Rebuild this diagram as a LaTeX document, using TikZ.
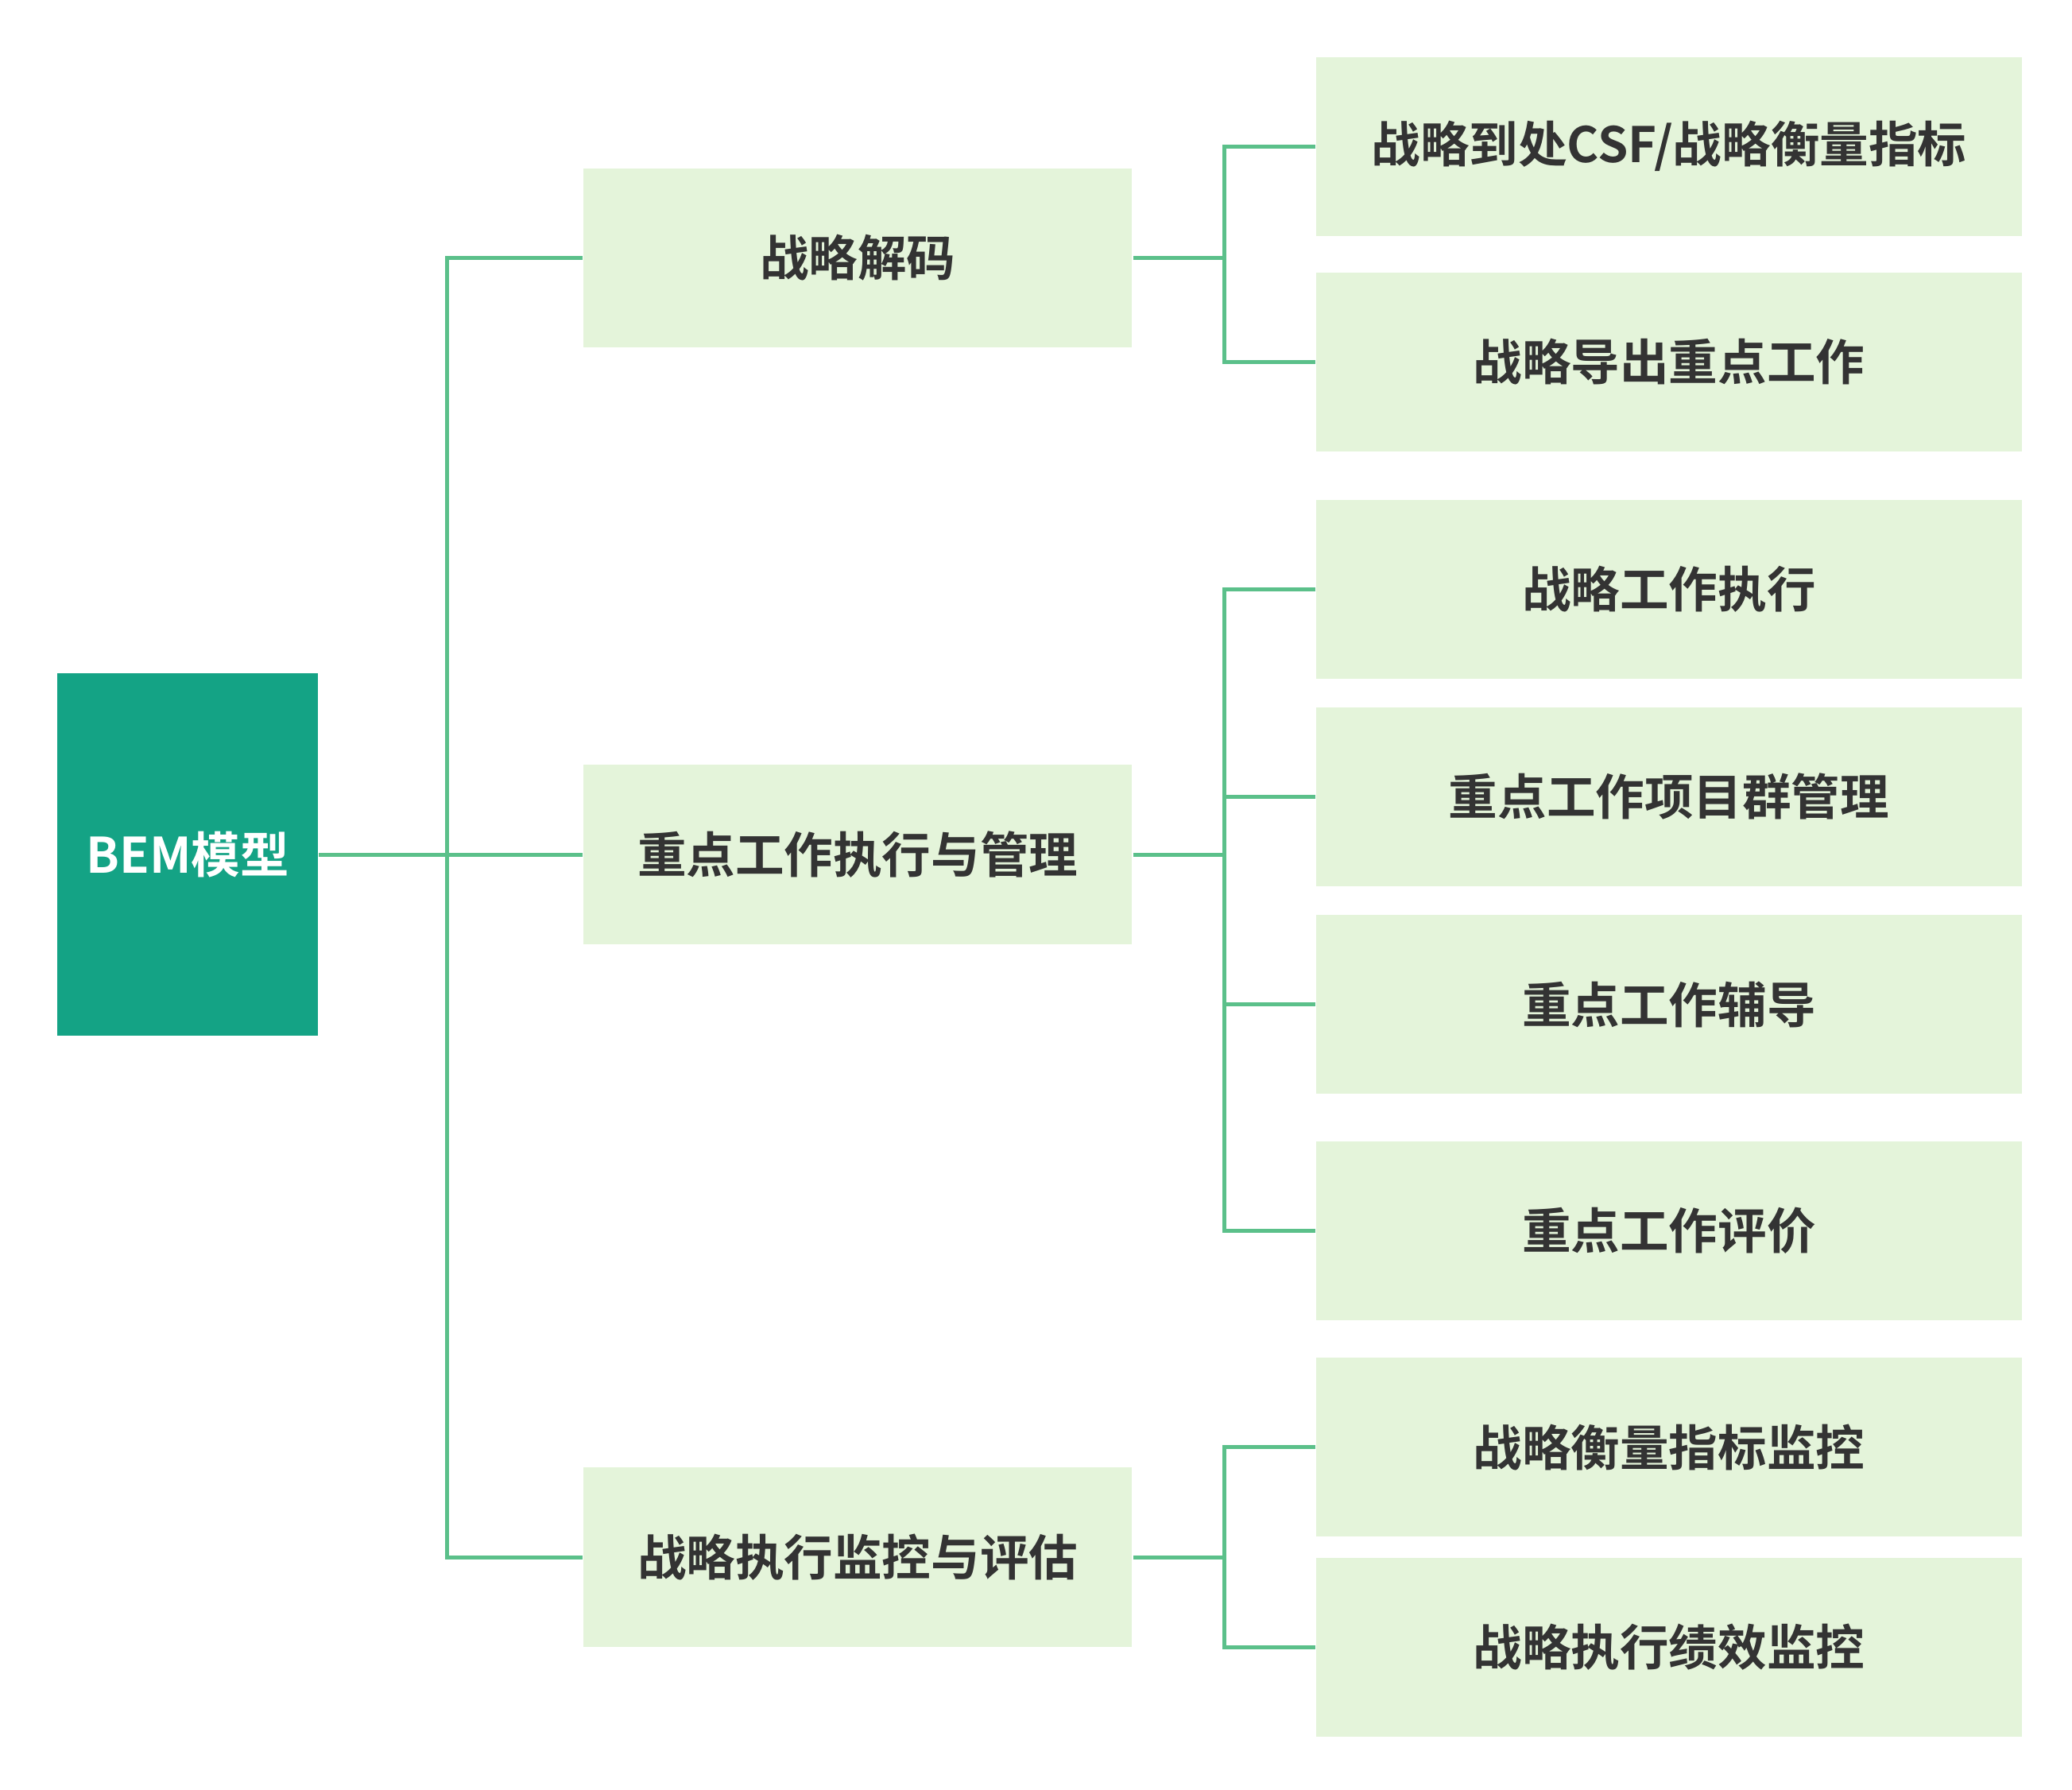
\documentclass[tikz,border=0pt]{standalone}
\usepackage{fontspec}
\setmainfont{Noto Sans CJK SC Bold}
\usepackage{tikz}
\usetikzlibrary{positioning}
\definecolor{rootgreen}{HTML}{14A385}
\definecolor{boxgreen}{HTML}{E4F4DA}
\definecolor{linegreen}{HTML}{5BC08A}
\definecolor{textgray}{HTML}{333333}
\tikzset{
  rootbox/.style={fill=rootgreen, text=white, minimum width=1.97cm, minimum height=2.73cm, inner sep=0pt, font=\fontsize{10.5}{12}\selectfont},
  midbox/.style={fill=boxgreen, text=textgray, minimum width=4.14cm, minimum height=1.35cm, inner sep=0pt, font=\fontsize{10.5}{12}\selectfont},
  leafbox/.style={fill=boxgreen, text=textgray, minimum width=5.32cm, minimum height=1.35cm, inner sep=0pt, font=\fontsize{10.5}{12}\selectfont},
  link/.style={draw=linegreen, line width=0.85pt}
}
\begin{document}
\begin{tikzpicture}
  \useasboundingbox (0,0) rectangle (15.63,-13.5);
  % root and second level
  \node[rootbox] (bem) at (1.415,-6.445) {BEM模型};
  \node[midbox] (decode) at (6.47,-1.945) {战略解码};
  \node[midbox] (keywork) at (6.47,-6.445) {重点工作执行与管理};
  \node[midbox] (monitor) at (6.47,-11.745) {战略执行监控与评估};
  % leaves
  \node[leafbox] (csf) at (12.59,-1.105) {战略到处CSF/战略衡量指标};
  \node[leafbox] (derive) at (12.59,-2.73) {战略导出重点工作};
  \node[leafbox] (exec) at (12.59,-4.445) {战略工作执行};
  \node[leafbox] (group) at (12.59,-6.01) {重点工作项目群管理};
  \node[leafbox] (coach) at (12.59,-7.575) {重点工作辅导};
  \node[leafbox] (review) at (12.59,-9.285) {重点工作评价};
  \node[leafbox] (kpi) at (12.59,-10.915) {战略衡量指标监控};
  \node[leafbox] (perf) at (12.59,-12.425) {战略执行绩效监控};
  % connectors
  \draw[link] (bem.east) -- (keywork.west);
  \draw[link] (decode.west) -- ++(-1.02,0) |- (monitor.west);
  \draw[link] (decode.east) -- ++(0.69,0) coordinate (b1);
  \draw[link] (csf.west) -| (b1) |- (derive.west);
  \draw[link] (keywork.east) -- ++(0.69,0) coordinate (b2);
  \draw[link] (exec.west) -| (b2) |- (review.west);
  \draw[link] (b2 |- group.west) -- (group.west);
  \draw[link] (b2 |- coach.west) -- (coach.west);
  \draw[link] (monitor.east) -- ++(0.69,0) coordinate (b3);
  \draw[link] (kpi.west) -| (b3) |- (perf.west);
\end{tikzpicture}
\end{document}
